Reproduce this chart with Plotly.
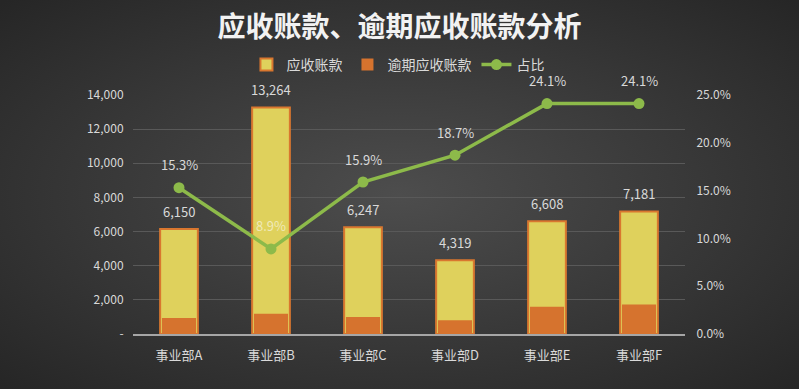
import plotly.graph_objects as go
import base64

categories = ["事业部A", "事业部B", "事业部C", "事业部D", "事业部E", "事业部F"]
receivable = [6150, 13264, 6247, 4319, 6608, 7181]
overdue = [941, 1180, 993, 808, 1593, 1731]
ratio = [0.153, 0.089, 0.159, 0.187, 0.241, 0.241]
left_ticks = [0, 2000, 4000, 6000, 8000, 10000, 12000, 14000]
left_labels = ["-", "2,000", "4,000", "6,000", "8,000", "10,000", "12,000", "14,000"]
right_ticks = [0, 0.05, 0.10, 0.15, 0.20, 0.25]
right_labels = ["0.0%", "5.0%", "10.0%", "15.0%", "20.0%", "25.0%"]

FONT = "Noto Sans CJK SC"
TXT = "#d9d9d9"

svg = """<svg xmlns='http://www.w3.org/2000/svg' width='799' height='389'>
<defs><radialGradient id='g' cx='50%' cy='50%' r='70%'>
<stop offset='0%' stop-color='#4d4d4d'/><stop offset='100%' stop-color='#262626'/>
</radialGradient></defs><rect width='799' height='389' fill='url(#g)'/></svg>"""
bg = "data:image/svg+xml;base64," + base64.b64encode(svg.encode()).decode()

fig = go.Figure()
fig.add_trace(go.Bar(
    x=categories, y=receivable, name="应收账款",
    marker=dict(color="#dfd15c", line=dict(color="#d9772f", width=2)),
))
fig.add_trace(go.Bar(
    x=categories, y=overdue, name="逾期应收账款",
    marker=dict(color="#d6732e", line=dict(color="#d6732e", width=0)),
    width=0.37,
))
fig.add_trace(go.Scatter(
    x=categories, y=ratio, name="占比", yaxis="y2",
    mode="lines+markers",
    line=dict(color="#8dba4a", width=3.5),
    marker=dict(color="#8dba4a", size=11),
))

annotations = []
for c, v in zip(categories, receivable):
    annotations.append(dict(x=c, y=v, xref="x", yref="y", text=f"{v:,}", showarrow=False,
                            yshift=18, font=dict(family=FONT, size=13, color=TXT)))
for c, r in zip(categories, ratio):
    col = "#efe9b8" if r < 0.1 else TXT
    annotations.append(dict(x=c, y=r, xref="x", yref="y2", text=f"{r*100:.1f}%", showarrow=False,
                            yshift=23, font=dict(family=FONT, size=13, color=col)))

fig.update_layout(
    width=799, height=389,
    margin=dict(l=133, r=114, t=95, b=55),
    paper_bgcolor="#3a3a3a", plot_bgcolor="rgba(0,0,0,0)",
    images=[dict(source=bg, xref="paper", yref="paper", x=-133/552, y=1+95/239,
                 sizex=799/552, sizey=389/239, sizing="stretch", layer="below",
                 xanchor="left", yanchor="top")],
    barmode="overlay", bargap=0.59,
    title=dict(text="<b>应收账款、逾期应收账款分析</b>", x=0.5, xanchor="center", y=0.93, yanchor="middle",
               font=dict(family=FONT, size=28, color="#f2f2f2")),
    legend=dict(orientation="h", x=0.48, xanchor="center", y=1.0 + 14/239, yanchor="bottom",
                font=dict(family=FONT, size=14, color=TXT), bgcolor="rgba(0,0,0,0)",
                itemwidth=30, tracegroupgap=0),
    font=dict(family=FONT, color=TXT),
    showlegend=True,
    annotations=annotations,
    xaxis=dict(showline=True, linecolor="#a6a6a6", linewidth=2, ticks="outside",
               ticklen=8, tickcolor="rgba(0,0,0,0)",
               tickfont=dict(family=FONT, size=13, color=TXT), showgrid=False),
    yaxis=dict(range=[0, 14000], tickvals=left_ticks, ticktext=left_labels,
               gridcolor="#595959", gridwidth=1, zeroline=False,
               ticks="outside", ticklen=6, tickcolor="rgba(0,0,0,0)",
               tickfont=dict(family=FONT, size=12, color=TXT)),
    yaxis2=dict(range=[0, 0.25], tickvals=right_ticks, ticktext=right_labels,
                overlaying="y", side="right", showgrid=False, zeroline=False,
                ticks="outside", ticklen=8, tickcolor="rgba(0,0,0,0)",
                tickfont=dict(family=FONT, size=12, color=TXT)),
)
fig.write_html("out.html", config={"displayModeBar": False},
               post_script="document.body.style.margin='0';document.body.style.overflow='hidden';")
